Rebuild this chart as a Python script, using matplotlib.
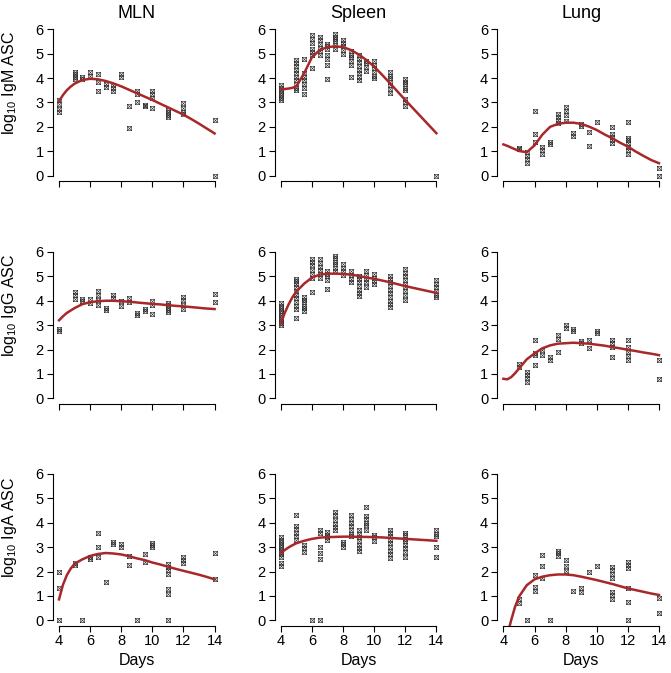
import matplotlib
matplotlib.use('Agg')
import matplotlib.pyplot as plt
from matplotlib.path import Path

plt.rcParams['font.family'] = 'Liberation Sans'
plt.rcParams['mathtext.fontset'] = 'custom'
plt.rcParams['mathtext.rm'] = 'Liberation Sans'
plt.rcParams['mathtext.it'] = 'Liberation Sans:italic'

tissues = ['MLN', 'Spleen', 'Lung']
isotypes = ['IgM', 'IgG', 'IgA']

# sampling days, one list of log10 values per day in each panel
days = [4, 5, 5.5, 6, 6.5, 7, 7.5, 8, 8.5, 9, 9.5, 10, 11, 12, 14]

mln_igm = [[3.1, 2.95, 2.75, 2.6], [4.25, 4.15, 4.05, 3.95], [4.05, 3.95], [4.25, 4.1],
           [4.15, 3.85, 3.45], [3.75, 3.65], [3.72, 3.58, 3.47], [4.15, 4.05], [2.86, 1.94],
           [3.48, 3.33, 3.03], [2.9, 2.85], [3.48, 3.33, 3.2, 2.76], [2.7, 2.6, 2.5, 2.4],
           [2.96, 2.76, 2.62, 2.51], [2.28, 0]]
spleen_igm = [[3.7, 3.6, 3.5, 3.4, 3.3, 3.2, 3.1],
              [4.75, 4.6, 4.5, 4.35, 4.2, 4.05, 3.9, 3.75, 3.6, 3.5],
              [4.8, 4.2, 4.05, 3.9, 3.75, 3.6, 3.35],
              [5.75, 5.6, 5.45, 5.2, 5.05, 4.95, 4.4],
              [5.7, 5.55, 5.4, 5.25, 5.1, 4.95],
              [5.4, 5.3, 5.2, 4.95, 4.8, 4.55, 3.95],
              [5.8, 5.7, 5.6, 5.5, 5.35, 5.2],
              [5.55, 5.45, 5.3, 5.15, 5.0],
              [5.1, 4.95, 4.85, 4.7, 4.55, 4.05],
              [4.95, 4.8, 4.65, 4.5, 4.35, 4.2, 4.05, 3.9],
              [4.7, 4.6, 4.45, 4.3],
              [4.7, 4.55, 4.4, 4.25, 4.1, 4.0],
              [4.25, 4.1, 4.0, 3.85, 3.7, 3.55, 3.4],
              [3.95, 3.85, 3.75, 3.6, 3.5, 3.15, 3.0, 2.85],
              [0]]
lung_igm = [[], [1.15, 1.1], [0.98, 0.82, 0.67, 0.53], [2.65, 1.69, 1.39], [1.19, 1.05, 0.89],
            [1.39, 1.3], [2.51, 2.39, 2.28, 2.17], [2.83, 2.66, 2.49, 2.26], [1.73, 1.63],
            [2.12, 2.04], [1.78, 1.22], [2.21], [2.01, 1.69, 1.57, 1.46, 1.35],
            [2.21, 1.56, 1.46, 1.33, 1.19, 1.05, 0.89], [0.3, 0]]

mln_igg = [[2.85, 2.78], [4.37, 4.23, 4.09], [4.07, 3.98], [4.07, 3.89], [4.41, 4.23, 4.02, 3.82],
           [3.72, 3.64], [4.23, 4.12], [3.98, 3.79], [4.13, 3.96], [3.51, 3.41], [3.68, 3.59],
           [3.98, 3.82, 3.45], [3.92, 3.82, 3.72, 3.62, 3.55], [4.16, 4.02, 3.82, 3.68], [4.27, 3.96]]
spleen_igg = [[3.9, 3.8, 3.7, 3.6, 3.5, 3.4, 3.3, 3.2, 3.1, 3.0],
              [4.9, 4.8, 4.7, 4.55, 4.4, 4.25, 4.1, 3.95, 3.8, 3.65, 3.3],
              [4.16, 4.05, 3.95, 3.8, 3.7, 3.59],
              [5.72, 5.6, 5.45, 5.25, 5.1, 4.95, 4.35],
              [5.7, 5.55, 5.4, 5.25, 5.1, 4.95],
              [5.2, 5.1, 5.0, 4.85, 4.5],
              [5.85, 5.75, 5.6, 5.5, 5.35, 5.2],
              [5.5, 5.35, 5.2, 5.05],
              [5.2, 5.05, 4.9, 4.75],
              [5.0, 4.9, 4.75, 4.6, 4.45, 4.3, 4.2],
              [5.2, 5.05, 4.9, 4.75, 4.55],
              [5.1, 4.95, 4.8, 4.7],
              [5.0, 4.9, 4.75, 4.6, 4.45, 4.3, 4.15, 4.0, 3.85, 3.75],
              [5.3, 5.15, 5.0, 4.85, 4.7, 4.55, 4.4, 4.25, 4.05],
              [4.85, 4.7, 4.55, 4.4, 4.25, 4.15]]
lung_igg = [[], [1.4, 1.3], [1.09, 0.95, 0.82, 0.68], [2.39, 1.87, 1.77, 1.36], [1.98, 1.77],
            [1.7, 1.57], [2.59, 2.45, 1.91], [3.0, 2.9], [2.86, 2.75], [2.36, 2.25], [2.41, 2.05],
            [2.77, 2.66], [2.41, 2.28, 2.11, 1.7], [2.41, 2.11, 1.91, 1.73, 1.57], [1.57, 0.79]]

mln_iga = [[1.99, 1.34, 0], [2.36, 2.26], [0], [2.61, 2.5], [3.56, 2.99, 2.58], [1.58],
           [3.22, 3.12], [3.11, 2.99], [2.65, 2.26], [0], [2.7, 2.4], [3.19, 3.08, 2.99],
           [2.31, 2.17, 2.06, 1.92, 1.27, 1.1, 0], [2.58, 2.47, 2.36], [2.78, 1.68]]
spleen_iga = [[3.4, 3.3, 3.2, 3.1, 3.0, 2.9, 2.8, 2.7, 2.6, 2.33, 2.22],
              [4.31, 3.86, 3.75, 3.6, 3.45, 3.3],
              [3.08, 2.95, 2.81],
              [0],
              [3.7, 3.56, 2.99, 2.74, 2.5, 0],
              [3.63, 3.5, 3.4, 3.3],
              [4.45, 4.31, 4.1, 3.95, 3.82, 3.7],
              [3.22, 3.12, 3.01],
              [4.3, 4.15, 4.0, 3.85, 3.7, 3.55, 3.45],
              [3.7, 3.55, 3.4, 3.25, 3.1, 2.95, 2.85],
              [4.65, 4.27, 4.15, 4.0, 3.9, 3.7],
              [3.5, 3.4, 3.25],
              [3.7, 3.6, 3.45, 3.3, 3.15, 3.0, 2.85, 2.7, 2.55],
              [3.6, 3.5, 3.35, 3.25, 3.1, 2.95, 2.8, 2.6],
              [3.7, 3.55, 3.45, 3.0, 2.6]]
lung_iga = [[], [0.86, 0.7], [0], [1.85, 1.38, 1.21], [2.67, 2.24, 1.72], [0],
            [2.85, 2.74, 2.65], [2.47, 2.22, 2.03], [1.21], [1.31, 1.17], [1.99], [2.22],
            [2.2, 2.05, 1.9, 1.72, 1.17, 1.04, 0.87], [2.4, 2.26, 2.13, 1.31, 0.76, 0], [0.9, 0.31]]

# fitted curves
fit_days = [4, 4.25, 4.5, 4.75, 5, 5.5, 6, 6.5, 7, 7.5, 8, 8.5, 9, 9.5, 10,
            10.5, 11, 11.5, 12, 12.5, 13, 13.5, 14]
fit_mln_igm = [3.05, 3.3, 3.5, 3.65, 3.77, 3.92, 3.97, 3.95, 3.88, 3.78, 3.66, 3.52, 3.38, 3.24,
               3.1, 2.95, 2.8, 2.65, 2.5, 2.32, 2.13, 1.93, 1.73]
fit_spleen_igm = [3.52, 3.55, 3.57, 3.6, 3.66, 4.2, 4.85, 5.15, 5.27, 5.3, 5.27, 5.15, 4.97, 4.74,
                  4.47, 4.14, 3.8, 3.45, 3.1, 2.76, 2.42, 2.08, 1.74]
fit_lung_igm = [1.28, 1.22, 1.15, 1.08, 1.01, 0.96, 1.24, 1.68, 2.0, 2.12, 2.17, 2.17, 2.12, 2.01,
                1.87, 1.69, 1.53, 1.35, 1.19, 0.99, 0.81, 0.64, 0.51]
fit_mln_igg = [3.2, 3.36, 3.5, 3.6, 3.7, 3.86, 3.94, 3.98, 4.0, 4.0, 3.98, 3.96, 3.93, 3.9, 3.87,
               3.85, 3.82, 3.79, 3.77, 3.74, 3.71, 3.68, 3.66]
fit_spleen_igg = [3.07, 3.5, 3.85, 4.15, 4.38, 4.7, 4.95, 5.07, 5.11, 5.11, 5.1, 5.07, 5.02, 4.95,
                  4.9, 4.83, 4.76, 4.68, 4.6, 4.53, 4.46, 4.39, 4.32]
fit_lung_igg = [0.8, 0.78, 0.87, 1.03, 1.22, 1.6, 1.84, 2.05, 2.17, 2.24, 2.26, 2.28, 2.26, 2.24,
                2.2, 2.16, 2.1, 2.05, 1.99, 1.94, 1.88, 1.83, 1.77]
fit_mln_iga = [0.86, 1.45, 1.85, 2.12, 2.32, 2.5, 2.64, 2.72, 2.76, 2.74, 2.7, 2.63, 2.54, 2.47,
               2.37, 2.29, 2.2, 2.11, 2.03, 1.95, 1.87, 1.78, 1.68]
fit_spleen_iga = [2.77, 2.88, 2.99, 3.08, 3.16, 3.26, 3.34, 3.39, 3.41, 3.42, 3.43, 3.43, 3.42,
                  3.42, 3.41, 3.4, 3.38, 3.36, 3.34, 3.32, 3.3, 3.28, 3.26]
fit_lung_iga = [-1.3, -0.6, 0.01, 0.56, 0.97, 1.44, 1.68, 1.79, 1.85, 1.88, 1.88, 1.85, 1.79, 1.72,
                1.65, 1.57, 1.49, 1.4, 1.31, 1.24, 1.17, 1.1, 1.04]

points = [[mln_igm, spleen_igm, lung_igm],
          [mln_igg, spleen_igg, lung_igg],
          [mln_iga, spleen_iga, lung_iga]]
fits = [[fit_mln_igm, fit_spleen_igm, fit_lung_igm],
        [fit_mln_igg, fit_spleen_igg, fit_lung_igg],
        [fit_mln_iga, fit_spleen_iga, fit_lung_iga]]

# square with a cross in it (R pch=7)
box_x = Path([(-1, -1), (1, -1), (1, 1), (-1, 1), (-1, -1), (-1, -1), (1, 1), (-1, 1), (1, -1)],
             [Path.MOVETO, Path.LINETO, Path.LINETO, Path.LINETO, Path.CLOSEPOLY,
              Path.MOVETO, Path.LINETO, Path.MOVETO, Path.LINETO])

W, H = 671, 673
fig = plt.figure(figsize=(W / 100, H / 100), dpi=100)

lefts = [52.8, 274.6, 497.2]
bottoms = [181.5, 404.2, 626.2]
label_y = [83.3, 305.5, 527.5]

for r in range(3):
    for c in range(3):
        ax = fig.add_axes([lefts[c] / W, 1 - bottoms[r] / H, 168 / W, 158.1 / H])
        xs, ys = [], []
        for d, vals in zip(days, points[r][c]):
            xs += [d] * len(vals)
            ys += vals
        ax.plot(xs, ys, linestyle='none', marker=box_x, ms=3.0, mfc='none',
                mec='#333333', mew=0.45)
        ax.plot(fit_days, fits[r][c], color='#a8282a', lw=1.8)

        ax.set_xlim(3.6, 14.4)
        ax.set_ylim(-0.24, 6.24)
        ax.set_xticks([4, 6, 8, 10, 12, 14])
        ax.set_yticks(range(7))
        for s in ['top', 'right']:
            ax.spines[s].set_visible(False)
        ax.spines['left'].set_bounds(0, 6)
        ax.spines['bottom'].set_bounds(4, 14)
        ax.spines['left'].set_linewidth(0.8)
        ax.spines['bottom'].set_linewidth(0.8)
        ax.tick_params(direction='out', length=4, width=0.8, labelsize=10.5)
        ax.tick_params(axis='y', pad=2.5)
        ax.tick_params(axis='x', pad=1.5)
        if r < 2:
            ax.tick_params(axis='x', labelbottom=False)
        else:
            ax.set_xlabel('Days', fontsize=11.5, labelpad=4)
        if r == 0:
            ax.set_title(tissues[c], fontsize=13, pad=4)

    fig.text(10 / W, 1 - label_y[r] / H, r'log$_{10}$ ' + isotypes[r] + ' ASC',
             rotation=90, ha='center', va='center', fontsize=11.5)

fig.savefig('out.png', dpi=100)
